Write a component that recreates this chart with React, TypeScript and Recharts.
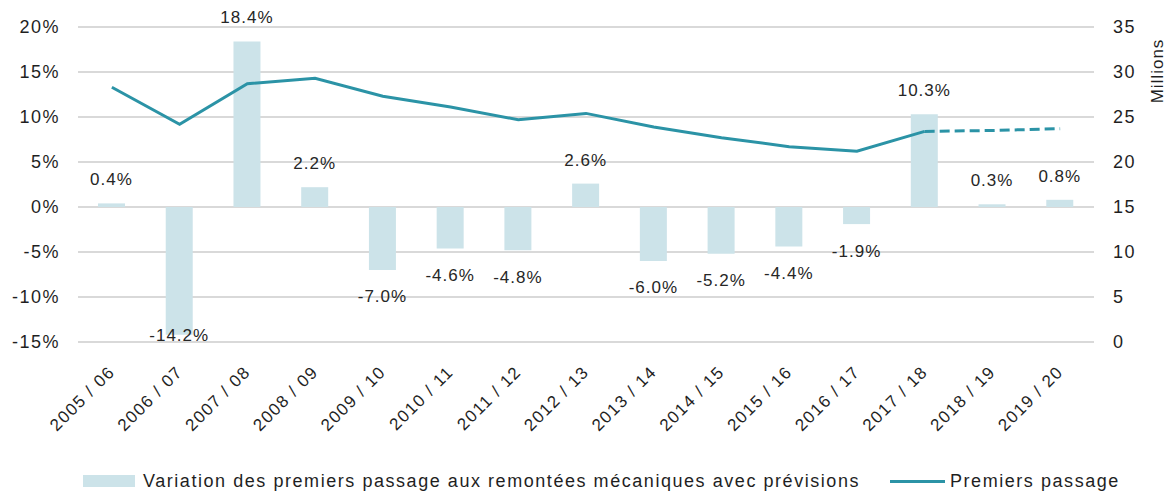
import {
  ComposedChart,
  Bar,
  Line,
  XAxis,
  YAxis,
  CartesianGrid,
  LabelList,
} from "recharts";

const seasons = [
  "2005 / 06",
  "2006 / 07",
  "2007 / 08",
  "2008 / 09",
  "2009 / 10",
  "2010 / 11",
  "2011 / 12",
  "2012 / 13",
  "2013 / 14",
  "2014 / 15",
  "2015 / 16",
  "2016 / 17",
  "2017 / 18",
  "2018 / 19",
  "2019 / 20",
];

// yearly change in first passages, %
const variation = [0.4, -14.2, 18.4, 2.2, -7.0, -4.6, -4.8, 2.6, -6.0, -5.2, -4.4, -1.9, 10.3, 0.3, 0.8];

// first passages in millions, observed then forecast
const passagesActual = [28.3, 24.2, 28.7, 29.3, 27.3, 26.1, 24.7, 25.4, 23.9, 22.7, 21.7, 21.2, 23.4, null, null];
const passagesForecast = [null, null, null, null, null, null, null, null, null, null, null, null, 23.4, 23.5, 23.7];

const leftTicks = [-15, -10, -5, 0, 5, 10, 15, 20];
const rightTicks = [0, 5, 10, 15, 20, 25, 30, 35];

const BAR_COLOR = "#cce3e9";
const LINE_COLOR = "#2b93a6";
const TEXT_COLOR = "#1f1f1f";
const FONT = "'Liberation Sans', Arial, sans-serif";

const data = seasons.map((season, i) => ({
  season,
  variation: variation[i],
  actual: passagesActual[i],
  forecast: passagesForecast[i],
}));

function SeasonTick(props: any) {
  const { x, y, payload } = props;
  const px = x + 4;
  const py = y + 31;
  return (
    <text
      x={px}
      y={py}
      transform={`rotate(-45 ${px} ${py})`}
      textAnchor="end"
      fontSize={17}
      letterSpacing={1.4}
      fontFamily={FONT}
      fill={TEXT_COLOR}
    >
      {payload.value}
    </text>
  );
}

// value label above positive bars, below negative ones
function VariationLabel(props: any) {
  const { x, y, width, height, value } = props;
  const top = Math.min(y, y + height);
  const bottom = Math.max(y, y + height);
  const cy = value >= 0 ? top - 24 : Math.min(bottom + 26.5, 335);
  return (
    <text
      x={x + width / 2}
      y={cy}
      dy="0.35em"
      textAnchor="middle"
      fontSize={17}
      letterSpacing={1}
      fontFamily={FONT}
      fill="#262626"
    >
      {value.toFixed(1)}%
    </text>
  );
}

function MillionsLabel(props: any) {
  const { viewBox } = props;
  const lx = viewBox.x + 63;
  const ly = viewBox.y + 44;
  return (
    <text
      x={lx}
      y={ly}
      transform={`rotate(-90 ${lx} ${ly})`}
      textAnchor="middle"
      dy="0.35em"
      fontSize={17}
      letterSpacing={1}
      fontFamily={FONT}
      fill={TEXT_COLOR}
    >
      Millions
    </text>
  );
}

const tickStyle = {
  fontSize: 18,
  fontFamily: FONT,
  fill: TEXT_COLOR,
  letterSpacing: 1.5,
};

export default function App() {
  return (
    <div style={{ position: "absolute", left: 0, top: 0, width: 1168, height: 491, background: "#fff" }}>
      <ComposedChart
        width={1168}
        height={491}
        data={data}
        margin={{ top: 27, right: 0, left: 0, bottom: 0 }}
      >
        <CartesianGrid yAxisId="left" vertical={false} stroke="#d9d9d9" strokeWidth={2} />
        <XAxis
          dataKey="season"
          height={149}
          interval={0}
          axisLine={false}
          tickLine={false}
          tickSize={0}
          tickMargin={0}
          tick={<SeasonTick />}
        />
        <YAxis
          yAxisId="left"
          width={78}
          domain={[-15, 20]}
          ticks={leftTicks}
          tickFormatter={(v: number) => `${v}%`}
          axisLine={false}
          tickLine={false}
          tickSize={0}
          tickMargin={18}
          tick={tickStyle}
        />
        <YAxis
          yAxisId="right"
          orientation="right"
          width={74}
          domain={[0, 35]}
          ticks={rightTicks}
          axisLine={false}
          tickLine={false}
          tickSize={0}
          tickMargin={19}
          tick={{ ...tickStyle, textAnchor: "start" }}
          label={{ content: <MillionsLabel /> }}
        />
        <Bar yAxisId="left" dataKey="variation" fill={BAR_COLOR} barSize={27} isAnimationActive={false}>
          <LabelList dataKey="variation" content={<VariationLabel />} />
        </Bar>
        <Line
          yAxisId="right"
          dataKey="actual"
          stroke={LINE_COLOR}
          strokeWidth={3}
          dot={false}
          activeDot={false}
          connectNulls={false}
          isAnimationActive={false}
        />
        <Line
          yAxisId="right"
          dataKey="forecast"
          stroke={LINE_COLOR}
          strokeWidth={3}
          strokeDasharray="10 5"
          dot={false}
          activeDot={false}
          isAnimationActive={false}
        />
      </ComposedChart>

      {/* legend, placed like the original */}
      <div
        style={{
          position: "absolute",
          left: 0,
          top: 466,
          width: 1168,
          height: 30,
          fontFamily: FONT,
          fontSize: 18,
          letterSpacing: 1.55,
          color: TEXT_COLOR,
        }}
      >
        <div style={{ position: "absolute", left: 83, top: 9, width: 52, height: 12, background: BAR_COLOR }} />
        <span style={{ position: "absolute", left: 143, top: 4, whiteSpace: "nowrap", lineHeight: "22px" }}>
          Variation des premiers passage aux remontées mécaniques avec prévisions
        </span>
        <div style={{ position: "absolute", left: 890, top: 14, width: 55, height: 3, background: LINE_COLOR }} />
        <span style={{ position: "absolute", left: 950, top: 4, whiteSpace: "nowrap", lineHeight: "22px" }}>
          Premiers passage
        </span>
      </div>
    </div>
  );
}
